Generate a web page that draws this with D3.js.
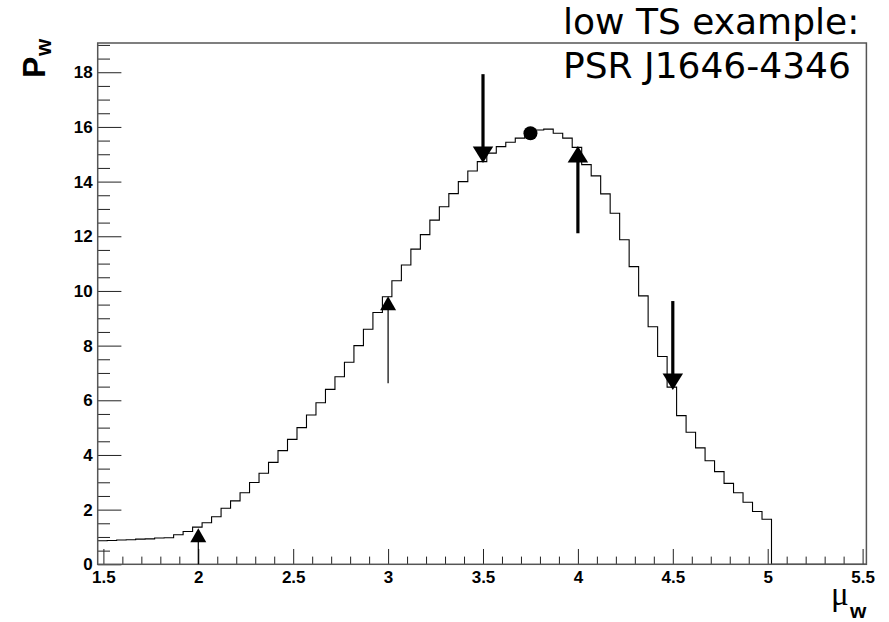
<!DOCTYPE html>
<html>
<head>
<meta charset="utf-8">
<script src="https://cdn.jsdelivr.net/npm/d3@7/dist/d3.min.js"></script>
<style>
  body { margin: 0; background: #fff; }
  svg { display: block; }
</style>
</head>
<body>
<div id="chart"></div>
<script>
// likelihood scan histogram: bin edges in mu_w, contents P_w
const binEdges = [
  1.47, 1.52, 1.57, 1.62, 1.67, 1.72, 1.77, 1.82, 1.87, 1.92,
  1.97, 2.02, 2.07, 2.12, 2.17, 2.22, 2.27, 2.32, 2.37, 2.42,
  2.47, 2.52, 2.57, 2.62, 2.67, 2.72, 2.77, 2.82, 2.87, 2.92,
  2.97, 3.02, 3.07, 3.12, 3.17, 3.22, 3.27, 3.32, 3.37, 3.42,
  3.47, 3.52, 3.57, 3.62, 3.67, 3.72, 3.77, 3.82, 3.87, 3.92,
  3.97, 4.02, 4.07, 4.12, 4.17, 4.22, 4.27, 4.32, 4.37, 4.42,
  4.47, 4.52, 4.57, 4.62, 4.67, 4.72, 4.77, 4.82, 4.87, 4.92,
  4.97, 5.02, 5.07, 5.12, 5.17, 5.22, 5.27, 5.32, 5.37, 5.42,
  5.47, 5.52
];
const binValues = [
  0.86, 0.87, 0.89, 0.90, 0.92, 0.93, 0.96, 0.97, 1.08, 1.20,
  1.36, 1.52, 1.74, 2.05, 2.32, 2.62, 2.99, 3.33, 3.73, 4.16,
  4.57, 5.00, 5.46, 5.91, 6.40, 6.86, 7.39, 8.00, 8.60, 9.21,
  9.79, 10.37, 10.95, 11.53, 12.06, 12.59, 13.08, 13.56, 14.00, 14.39,
  14.73, 15.04, 15.28, 15.44, 15.59, 15.73, 15.89, 15.92, 15.77, 15.59,
  15.25, 14.62, 14.21, 13.55, 12.84, 11.87, 10.89, 9.82, 8.69, 7.60,
  6.48, 5.44, 4.83, 4.26, 3.79, 3.39, 2.96, 2.62, 2.27, 1.93,
  1.65, 0, 0, 0, 0, 0, 0, 0, 0, 0,
  0
];

// marker points with their error lines
const markerX    = [2,    3,    3.5,   4,     4.5];
const markerY    = [1.06, 9.55, 14.98, 15.00, 6.68];
const markerEndY = [0,    6.62, 17.93, 12.11, 9.63];
const markerDir  = ["up", "up", "down", "up", "down"];
const markerBold = [false, false, true, true, true];

// best value
const bestX = 3.75;
const bestY = 15.77;

const xMajor = [1.5, 2, 2.5, 3, 3.5, 4, 4.5, 5, 5.5];
const yMajor = [0, 2, 4, 6, 8, 10, 12, 14, 16, 18];
const yMax = 19.07;

const titleLines = ["low TS example:", "PSR J1646-4346"];

const width = 889, height = 622;
const frame = { left: 97.7, right: 866.4, top: 43, bottom: 564.3 };

const x = d3.scaleLinear()
  .domain([binEdges[0], binEdges[binEdges.length - 1]])
  .range([frame.left, frame.right]);
const y = d3.scaleLinear()
  .domain([0, yMax])
  .range([frame.bottom, frame.top]);

const svg = d3.select("#chart").append("svg")
  .attr("width", width)
  .attr("height", height);

svg.append("rect")
  .attr("width", width).attr("height", height)
  .attr("fill", "#fff");

// histogram outline
const histPts = binValues.map((v, i) => [binEdges[i], v]);
histPts.push([binEdges[binEdges.length - 1], binValues[binValues.length - 1]]);

const stepLine = d3.line()
  .x(d => x(d[0]))
  .y(d => y(d[1]))
  .curve(d3.curveStepAfter);

svg.append("path")
  .datum(histPts)
  .attr("d", stepLine)
  .attr("fill", "none")
  .attr("stroke", "#000")
  .attr("stroke-width", 1.1);

// axes (ROOT style, ticks pointing inside)
const xMinor = d3.range(1.5, 5.501, 0.1).filter(v => !xMajor.some(m => Math.abs(m - v) < 1e-6));
const yMinor = d3.range(0, yMax, 0.5).filter(v => !yMajor.some(m => Math.abs(m - v) < 1e-6));

function styleAxis(g) {
  g.select(".domain").remove();
  g.selectAll("line").attr("stroke", "#222").attr("stroke-width", 1);
  g.selectAll("text")
    .attr("fill", "#000")
    .style("font-family", "'Liberation Sans', Arial, sans-serif")
    .style("font-weight", "bold")
    .style("font-size", "17px");
}

svg.append("g")
  .attr("transform", `translate(0,${frame.bottom})`)
  .call(d3.axisBottom(x).tickValues(xMajor).tickSize(-15.3).tickPadding(7).tickFormat(d => String(d)))
  .call(styleAxis);

svg.append("g")
  .attr("transform", `translate(0,${frame.bottom})`)
  .call(d3.axisBottom(x).tickValues(xMinor).tickSize(-7.7).tickFormat(""))
  .call(styleAxis);

svg.append("g")
  .attr("transform", `translate(${frame.left},0)`)
  .call(d3.axisLeft(y).tickValues(yMajor).tickSize(-23.7).tickPadding(5).tickFormat(d => String(d)))
  .call(styleAxis);

svg.append("g")
  .attr("transform", `translate(${frame.left},0)`)
  .call(d3.axisLeft(y).tickValues(yMinor).tickSize(-12.3).tickFormat(""))
  .call(styleAxis);

// frame
svg.append("rect")
  .attr("x", frame.left).attr("y", frame.top)
  .attr("width", frame.right - frame.left)
  .attr("height", frame.bottom - frame.top)
  .attr("fill", "none")
  .attr("stroke", "#555")
  .attr("stroke-width", 1.5);

// markers
function triangle(cx, cy, w, h, dir) {
  const p = d3.path();
  if (dir === "up") {
    p.moveTo(cx, cy - h / 2);
    p.lineTo(cx + w / 2, cy + h / 2);
    p.lineTo(cx - w / 2, cy + h / 2);
  } else {
    p.moveTo(cx, cy + h / 2);
    p.lineTo(cx + w / 2, cy - h / 2);
    p.lineTo(cx - w / 2, cy - h / 2);
  }
  p.closePath();
  return p.toString();
}

const markers = markerX.map((mx, i) => ({
  x: mx, y: markerY[i], end: markerEndY[i], dir: markerDir[i], bold: markerBold[i]
}));

svg.append("g").selectAll("line")
  .data(markers)
  .enter()
  .append("line")
  .attr("x1", d => x(d.x)).attr("x2", d => x(d.x))
  .attr("y1", d => y(d.y)).attr("y2", d => y(d.end))
  .attr("stroke", "#000")
  .attr("stroke-width", d => d.bold ? 3.2 : 1.2);

svg.append("g").selectAll("path")
  .data(markers)
  .enter()
  .append("path")
  .attr("d", d => d.bold
    ? triangle(x(d.x), y(d.y), 20.5, 16.5, d.dir)
    : triangle(x(d.x), y(d.y), 16, 14, d.dir))
  .attr("fill", "#000");

svg.append("circle")
  .attr("cx", x(bestX)).attr("cy", y(bestY))
  .attr("r", 7)
  .attr("fill", "#000");

// title text
svg.append("g").selectAll("text")
  .data(titleLines)
  .enter()
  .append("text")
  .attr("x", 563)
  .attr("y", (d, i) => 34 + i * 43.5)
  .style("font-family", "'DejaVu Sans', sans-serif")
  .style("font-size", "36px")
  .attr("fill", "#000")
  .text(d => d);

// y axis title P_w
const yTitle = svg.append("g")
  .attr("transform", "translate(45,78) rotate(-90)");
yTitle.append("text")
  .attr("x", 0).attr("y", 0)
  .style("font-family", "'Liberation Sans', Arial, sans-serif")
  .style("font-weight", "bold")
  .style("font-size", "32px")
  .text("P");
yTitle.append("text")
  .attr("x", 22).attr("y", 6)
  .style("font-family", "'Liberation Sans', Arial, sans-serif")
  .style("font-weight", "bold")
  .style("font-size", "22px")
  .text("w");

// x axis title mu_w
svg.append("text")
  .attr("x", 831).attr("y", 605)
  .style("font-family", "'Liberation Serif', 'DejaVu Serif', serif")
  .style("font-size", "33px")
  .text("\u03bc");
svg.append("text")
  .attr("x", 850).attr("y", 618)
  .style("font-family", "'Liberation Sans', Arial, sans-serif")
  .style("font-weight", "bold")
  .style("font-size", "21px")
  .text("w");
</script>
</body>
</html>
